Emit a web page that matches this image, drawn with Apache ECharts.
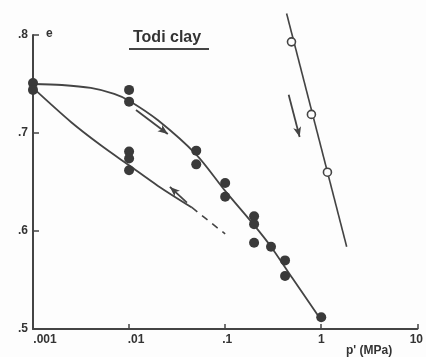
<!DOCTYPE html>
<html>
<head>
<meta charset="utf-8">
<script src="https://cdn.jsdelivr.net/npm/echarts@6/dist/echarts.min.js"></script>
<style>
  html, body { margin: 0; padding: 0; background: #fdfdfd; }
  #chart { width: 426px; height: 357px; }
</style>
</head>
<body>
<div id="chart"></div>
<script>
// measured points (filled = Todi clay loading / unloading)
var pointP = [0.001, 0.001, 0.01, 0.01, 0.01, 0.01, 0.01, 0.05, 0.05, 0.1, 0.1, 0.2, 0.2, 0.2, 0.3, 0.42, 0.42, 1.0];
var pointE = [0.751, 0.744, 0.744, 0.732, 0.681, 0.674, 0.662, 0.682, 0.668, 0.649, 0.635, 0.615, 0.607, 0.588, 0.584, 0.570, 0.554, 0.512];

// open circles on the right-hand line
var openP = [0.49, 0.79, 1.16];
var openE = [0.793, 0.719, 0.660];

// fitted curves
var loadP = [0.001, 0.002, 0.004, 0.007, 0.01, 0.02, 0.05, 0.1, 0.2, 0.3, 0.5, 1.0];
var loadE = [0.750, 0.749, 0.746, 0.740, 0.733, 0.713, 0.678, 0.641, 0.606, 0.584, 0.552, 0.509];
var unloadP = [0.001, 0.0025, 0.005, 0.01, 0.02, 0.045];
var unloadE = [0.746, 0.711, 0.688, 0.667, 0.646, 0.624];
var dashP = [0.045, 0.1];
var dashE = [0.624, 0.597];
var rightP = [0.436, 1.84];
var rightE = [0.822, 0.584];

// direction arrows: [fromP, fromE, toP, toE]
var arrows = [
    [0.0118, 0.7235, 0.0253, 0.699],
    [0.040, 0.629, 0.0266, 0.645],
    [0.458, 0.739, 0.596, 0.696]
];

var xTickLabels = ['.001', '.01', '.1', '1', '10'];
var yTickLabels = { '0.5': '.5', '0.6': '.6', '0.7': '.7', '0.8': '.8' };

function zip(a, b) {
    return a.map(function (v, i) { return [v, b[i]]; });
}

var ink = '#444';
var font = 'Liberation Sans, Arial, sans-serif';

var dom = document.getElementById('chart');
var myChart = echarts.init(dom);

myChart.setOption({
    animation: false,
    backgroundColor: '#fdfdfd',
    grid: { left: 33, right: 8, top: 35, bottom: 28 },
    xAxis: {
        type: 'log',
        logBase: 10,
        min: 0.001,
        max: 10,
        axisLine: { lineStyle: { color: ink, width: 2 } },
        axisTick: { inside: true, length: 5, lineStyle: { color: ink, width: 1.5 } },
        minorTick: { show: false },
        splitLine: { show: false },
        axisLabel: {
            margin: 5,
            color: '#333',
            fontFamily: font,
            fontWeight: 'bold',
            fontSize: 12,
            formatter: function (v) {
                var k = Math.round(Math.log10(v)) + 3;
                return '{l' + k + '|' + xTickLabels[k] + '}';
            },
            rich: {
                l0: { padding: [0, 0, 0, 24], fontSize: 12, fontWeight: 'bold', fontFamily: font, color: '#333' },
                l1: { padding: [0, 0, 0, 14], fontSize: 12, fontWeight: 'bold', fontFamily: font, color: '#333' },
                l2: { padding: [0, 0, 0, 4], fontSize: 12, fontWeight: 'bold', fontFamily: font, color: '#333' },
                l3: { fontSize: 12, fontWeight: 'bold', fontFamily: font, color: '#333' },
                l4: { padding: [0, 2, 0, 0], fontSize: 12, fontWeight: 'bold', fontFamily: font, color: '#333' }
            }
        }
    },
    yAxis: {
        type: 'value',
        min: 0.5,
        max: 0.8,
        interval: 0.1,
        axisLine: { show: true, lineStyle: { color: ink, width: 2 } },
        axisTick: { show: true, inside: true, length: 6, lineStyle: { color: ink, width: 1.5 } },
        splitLine: { show: false },
        axisLabel: {
            margin: 5,
            color: '#333',
            fontFamily: font,
            fontWeight: 'bold',
            fontSize: 12,
            formatter: function (v) {
                return yTickLabels[v.toFixed(1)];
            }
        }
    },
    graphic: [
        {
            type: 'text', left: 133, top: 30,
            style: { text: 'Todi clay', font: 'bold 16px ' + font, fill: '#333' }
        },
        {
            type: 'rect', left: 129, top: 48,
            shape: { width: 80, height: 2 },
            style: { fill: '#444' }
        },
        {
            type: 'text', left: 46, top: 28,
            style: { text: 'e', font: 'bold 12px ' + font, fill: '#333' }
        },
        {
            type: 'text', left: 346, top: 345,
            style: { text: "p' (MPa)", font: 'bold 12px ' + font, fill: '#333' }
        }
    ],
    series: [
        {
            type: 'line',
            data: zip(loadP, loadE),
            smooth: 0.3,
            symbol: 'none',
            lineStyle: { color: ink, width: 1.8 }
        },
        {
            type: 'line',
            data: zip(unloadP, unloadE),
            smooth: 0.3,
            symbol: 'none',
            lineStyle: { color: ink, width: 1.8 }
        },
        {
            type: 'line',
            data: zip(dashP, dashE),
            symbol: 'none',
            lineStyle: { color: ink, width: 1.6, type: [7, 6] }
        },
        {
            type: 'line',
            data: zip(rightP, rightE),
            symbol: 'none',
            clip: false,
            lineStyle: { color: ink, width: 1.6 }
        },
        {
            type: 'scatter',
            data: zip(pointP, pointE),
            symbolSize: 10,
            itemStyle: { color: '#3a3a3a', opacity: 1 },
            z: 5,
            markLine: {
                silent: true,
                symbol: ['none', 'arrow'],
                symbolSize: [6, 10],
                label: { show: false },
                lineStyle: { color: ink, width: 1.8, type: 'solid' },
                data: arrows.map(function (a) {
                    return [{ coord: [a[0], a[1]] }, { coord: [a[2], a[3]] }];
                })
            }
        },
        {
            type: 'scatter',
            data: zip(openP, openE),
            symbolSize: 8,
            itemStyle: { color: '#fdfdfd', borderColor: ink, borderWidth: 1.6, opacity: 1 },
            z: 6
        }
    ]
});
</script>
</body>
</html>
